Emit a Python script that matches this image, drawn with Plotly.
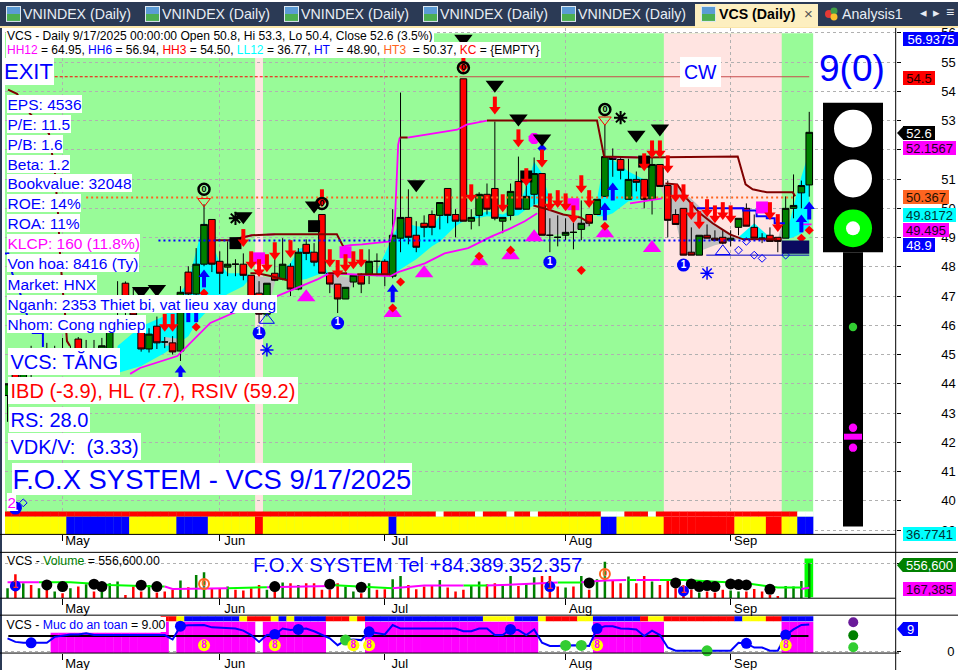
import plotly.graph_objects as go

W, H = 958, 670
FIG_H = 676
def px(x): return x / W
def py(y): return 1 - y / H

# ---------- data ----------
idx = list(range(-1, 102))
opens = [43.6,44.6,44.1,45.0,44.5,45.1,44.7,45.1,44.8,45.53,44.9,45.2,45.0,44.95,46.45,47.44,46.83,45.80,45.19,45.97,45.43,45.40,45.12,47.82,47.07,48.09,49.62,48.19,47.99,48.09,48.09,47.71,47.1,46.38,47.78,47.58,48.02,47.24,48.77,48.50,49.79,47.78,47.41,46.90,47.48,47.71,47.71,48.19,48.19,47.68,48.98,49.69,49.08,49.49,49.79,49.76,50.68,49.79,54.43,49.56,49.76,50.48,50.68,49.56,49.76,50.92,49.97,50.48,51.19,49.08,49.01,49.08,49.18,49.28,49.79,49.79,50.41,51.77,51.67,50.31,50.99,50.99,50.31,51.50,50.78,49.79,50.00,48.50,48.40,49.08,48.98,49.01,48.91,49.35,50.00,49.35,48.98,49.08,49.01,48.98,50.00,50.53,50.8]
highs = [44.0,45.0,45.1,45.3,45.2,45.4,45.3,45.57,45.3,45.6,45.5,45.5,45.57,45.9,47.51,47.5,47.3,46.2,45.9,46.3,45.6,45.63,47.34,48.02,48.64,50.14,49.62,48.53,48.87,48.26,48.46,47.71,47.51,47.44,48.29,48.98,48.12,48.64,48.94,48.81,49.79,47.78,47.41,47.3,47.71,47.78,48.60,48.46,48.26,49.97,53.96,50.65,49.56,49.76,49.93,50.20,50.68,49.97,54.43,49.97,50.55,50.85,52.97,49.69,50.85,51.77,50.92,51.74,51.19,49.66,49.76,49.66,49.5,50.27,49.79,50.31,52.86,52.05,51.74,51.70,51.26,51.0,51.84,51.5,50.95,49.97,50.00,49.35,49.08,49.45,49.25,49.28,49.25,49.66,50.17,49.79,49.15,49.35,49.01,50.41,51.16,50.95,53.3]
lows = [42.7,43.9,43.9,44.2,44.3,44.5,44.5,44.6,44.6,44.7,44.7,44.8,44.8,44.8,46.3,46.3,46.1,45.1,45.07,45.19,45.22,45.0,44.78,46.9,47.0,48.02,47.82,47.07,47.68,47.68,47.54,46.8,46.08,46.3,47.51,47.54,47.0,47.2,48.23,48.02,47.78,47.10,46.42,46.9,47.30,47.10,47.41,47.68,47.34,47.61,48.50,48.77,48.50,49.01,49.08,49.28,49.49,49.01,49.56,49.28,49.39,49.79,49.59,49.15,49.59,49.97,49.97,50.14,49.08,48.50,48.70,48.91,48.60,48.91,49.39,49.79,50.41,51.08,50.99,50.31,50.58,50.00,49.79,50.75,49.01,49.45,48.40,48.40,48.40,48.98,48.91,48.77,48.70,49.08,49.39,48.98,48.81,48.87,48.50,48.98,49.66,50.0,50.4]
closes = [44.0,44.1,44.9,44.5,45.0,44.7,45.1,44.8,45.1,44.9,45.2,45.0,45.3,45.8,46.95,46.5,46.35,45.19,45.70,45.40,45.43,45.09,47.13,47.07,48.09,49.45,48.09,47.78,48.09,48.09,47.71,46.9,46.38,47.44,47.54,48.09,47.24,48.50,48.46,48.16,47.78,47.41,46.90,47.30,47.71,47.41,48.19,48.19,47.71,49.08,49.69,49.01,48.67,49.35,49.35,50.20,49.76,49.56,49.56,49.69,50.48,49.97,49.66,49.69,50.58,49.97,50.41,51.19,49.08,49.08,49.01,49.18,49.18,49.49,49.49,50.31,51.77,51.67,51.30,50.99,50.89,50.31,51.50,50.75,49.59,49.45,48.40,48.40,49.08,48.98,48.91,48.81,48.98,49.66,49.39,48.98,48.98,48.87,48.87,50.00,50.10,50.78,52.6]
volume_k = [159,382,239,212,159,265,106,80,159,186,223,106,106,239,265,53,186,106,212,90,106,133,281,175,371,413,148,148,186,133,122,159,212,133,239,249,239,212,239,239,133,133,239,186,106,80,239,133,143,302,355,212,143,186,212,292,170,106,133,212,265,223,239,201,355,196,239,334,355,355,186,170,186,355,133,302,583,292,239,345,239,355,265,212,292,159,159,133,90,106,90,133,122,106,106,148,106,53,37,196,186,276,557]
safety = [4.3,3.1,2.8,2.8,2.8,2.8,4.8,5.1,5.6,5.6,6.0,5.4,5.4,5.2,5.2,5.2,5.2,5.2,5.2,5.2,5.4,3.9,8.4,8.7,8.8,8.8,8.0,7.9,7.8,7.6,6.9,5.4,3.1,5.4,5.6,7.6,7.1,7.3,7.6,6.7,5.4,4.3,2.0,3.7,3.9,3.7,6.5,6.0,5.6,8.8,7.6,7.6,7.6,7.6,7.6,7.6,7.6,7.6,6.7,6.7,7.6,7.6,5.4,5.4,7.3,7.1,5.4,7.3,2.8,1.7,1.7,1.9,2.0,1.9,1.7,7.6,8.4,8.4,7.6,7.5,7.3,5.1,6.9,5.4,1.2,0.1,0.1,0.1,0.1,0.1,0.1,0.1,0.1,2.8,2.6,1.2,1.2,0.1,0.1,5.4,7.3,8.8,9.0]

band_low = "Y"*8+"B"*8+"Y"*6+"B"*4+"Y"*6+"R"+"Y"*16+"B"+"Y"*26+"B"*2+"Y"*6+"R"*9+"Y"*4+"R"*2+"Y"*2+"B"*2
band_high = "R"*55+"W"+"R"*4+"W"+"R"*3+"W"+"R"*2+"W"+"R"*8+"W"*3+"R"*3+"W"+"R"*18+"W"*2
band_safety = "-"*20+"R"*2+"Y"+"B"*7+"Y"+"R"*3+"Y"+"B"+"Y"+"B"*4+"R"*3+"Y"+"R"+"B"*15+"Y"*4+"B"*3+"Y"+"R"*4+"Y"*2+"B"*6+"R"+"Y"*2+"R"*9+"B"+"Y"*3+"R"*2+"B"*4
safety_fill = "-"*6+"L"*14+"F"+"-"+"F"*10+"-"+"F"*8+"-"*5+"F"*22+"-"*7+"F"*9+"-"*15+"F"*4
state_colors = {"Y":"#FFFF00","B":"#0000FF","R":"#FF0000","W":"#FFFFFF"}

cyan_segments = [
 ([13,16,19,22,23,24,25,26,27,29,30],[45.29,45.97,46.32,47.51,48.53,49.56,48.87,48.12,47.78,47.78,47.71],[44.37,44.61,45.05,45.63,46.08,46.38,46.66,46.90,47.07,47.34,47.65]),
 ([33,35,36,37,39,40],[47.68,48.12,48.60,48.70,48.19,47.68],[47.61,47.51,47.54,47.58,47.78,47.65]),
 ([46,48,49,51,53,54,56,57],[47.85,49.04,49.56,49.39,49.35,49.76,49.76,49.56],[47.78,47.71,47.92,48.26,48.70,48.87,49.39,49.56]),
 ([58,60,62,64,65,66,67,68],[49.69,49.90,49.79,50.07,50.75,51.60,51.19,50.31],[49.62,49.73,49.69,49.76,49.97,50.10,50.24,50.24]),
 ([74,75,76,78,80,81],[50.31,51.77,51.67,51.26,50.99,50.41],[49.73,49.73,49.83,50.24,50.31,50.37]),
 ([92,94,96],[49.01,49.49,49.01],[48.94,48.94,48.94]),
 ([98,99,100,101],[48.98,50.07,51.09,51.94],[48.94,49.01,49.15,49.39]),
]
gray_segments = [
 ([19,21],[45.60,45.53],[45.29,45.36]),
 ([30,32,33],[47.71,47.65,47.58],[46.83,46.42,47.44]),
 ([40,42,43],[47.75,47.65,47.58],[47.34,46.90,47.51]),
 ([67,70,73],[50.07,49.79,49.49],[49.04,49.15,49.39]),
 ([82,84,85,87,89,91,92],[50.85,50.82,50.58,50.07,49.49,49.15,49.01],[50.75,49.56,48.43,48.53,48.74,48.87,48.94]),
 ([97,98],[48.94,49.90],[48.87,48.94]),
]

dark_x = [-0.94,0.2,1.86,4.27,4.66,5.04,5.42,5.67,6.06,6.31,6.56,6.95,None,25.4,27.3,30.1,33.0,40.9,41.7,None,48.9,49.9,None,60,73.7,74,74.9,79.4,91.9,92.9,93.8,95.6,98.9,99.2,None,29.9,30.8,32.6,34.6,None,39.8,42.2,None,43.5,47.7,None,65.9,67.7,69.7,71.9,73.1,None,82.7,84.2,85.4,87.1,88.7,90.9,92.6,96.9]
dark_y = [54.06,53.92,53.24,52.56,51.87,51.19,49.83,48.46,47.10,46.42,45.46,45.29,None,48.91,48.91,49.08,49.11,49.11,48.70,None,52.42,52.42,None,53.0,53.0,53.0,51.77,51.74,51.77,50.82,50.65,50.55,50.55,50.41,None,47.78,47.78,47.68,47.54,None,47.78,47.78,None,47.75,47.75,None,50.10,49.97,49.79,49.69,49.49,None,50.85,50.82,50.34,49.83,49.49,49.11,48.94,48.94]
magenta_up_x = [27.3,30.1,None,32.0,33.0,None,41.7,42.6,44.1,47.66,48.3,48.7,48.9,None,49.9,52.4,56.2,57.4,60.0,None,63.3,65.1,None,76.0,79.1,None,91.0,92.6]
magenta_up_y = [48.91,49.08,None,49.1,49.11,None,48.70,48.74,48.77,48.87,49.66,52.18,52.42,None,52.42,52.52,52.69,52.86,53.0,None,53.0,53.0,None,51.74,51.74,None,50.0,50.0]
magenta_low_x = [14.6,15.85,20.6,22.5,24.8,27.7,33.3,38.5,40,47.7,48.7,52.1,54.6,57.6,59.7,60.6,62.7,64.8,66.4,None,78.2,82.3,None,99.8,101.3]
magenta_low_y = [44.34,44.54,44.95,45.46,46.08,46.42,47.0,47.58,47.78,47.68,47.82,48.12,48.46,48.64,48.91,49.04,49.28,49.56,49.83,None,50.17,50.34,None,49.45,49.45]
blue_line_x = [-1.4,-0.9,-0.4,0.6,2.2,3.5,3.5,None,86.7,92.6,92.6,94.3,94.3,95.6,95.6,96.6,96.6,97.9]
blue_line_y = [48.46,48.46,47.78,47.10,45.74,45.74,45.26,None,50.0,50.0,49.93,49.93,49.73,49.73,49.66,49.66,49.49,49.49]

tri_i = [16,18,29,38,51,57,61,64,67,79,82]
tri_p = [47.17,47.24,49.73,50.10,50.82,55.8,54.23,53.07,52.39,52.52,52.73]
red_i = [19,20,29,30,31,32,33,35,39,40,41,42,43,44,57,58,61,62,64,65,67,68,69,70,71,72,73,80,81,82,83,84,85,86,87,88,89,90,91,96,97]
red_p = [46.08,46.08,48.98,48.22,47.95,48.12,48.53,48.60,50.34,48.29,47.92,48.12,48.22,48.29,54.94,50.51,53.51,50.17,52.39,51.06,51.70,50.20,50.31,50.20,49.79,50.82,50.31,51.57,52.01,52.01,51.50,50.51,50.51,49.90,49.59,50.0,49.79,49.90,49.79,49.90,49.49]
blue_up_i = [21,22,23,24,48,75,76,100,101]
blue_up_p = [44.34,46.42,46.42,47.61,47.10,49.90,50.58,49.49,49.93]
mag_tri_i = [37,48,52,59,63,66,75,81]
mag_tri_p = [46.96,46.42,47.78,48.19,48.40,49.01,49.15,48.64]
dia_i = [23,24,48,49,59,63,72,75,100,101]
dia_p = [45.94,47.10,46.59,47.48,48.36,48.57,47.88,49.39,48.98,49.25]
mag_sq_i = [31,42,71,95]
mag_sq_p = [48.29,48.50,50.14,50.03]
blk_sq_i = [28,38,65,80]
blk_sq_p = [48.81,49.39,51.09,51.60]
one_i = [0,31,41,68,85]
one_p = [39.75,45.74,46.08,48.16,48.06]
zero_i = [24,39,57,75]
zero_p = [50.65,50.17,54.81,53.38]
open_tri_i = [24,75]
open_tri_p = [50.24,53.03]
hol_dia_i = [1,92,93,94,95,98]
hol_dia_p = [39.93,48.57,48.87,48.40,48.29,48.40]
hol_tri_i = [32,90]
hol_tri_p = [46.18,48.53]
snow_i = [32,88]
snow_p = [45.16,47.78]
star_i = [28,77]
star_p = [49.66,53.10]

vol_ma_green_x = [3,7,9,12,18,19,None,27,32,None,40,45,48,None,57,60,None,69,72,None,78,79,None,82,85,93,95,97,100]
vol_ma_green_y = [254,254,238,212,186,186,None,159,175,None,212,186,159,None,201,201,None,249,249,None,292,292,None,292,292,238,201,170,170]
vol_ma_mag_x = [-1,3,None,19,20,27,None,32,40,None,48,52,57,None,60,66,69,None,72,75,77.7,None,79,82,None,100,101]
vol_ma_mag_y = [254,254,None,186,148,159,None,175,196,None,159,201,201,None,201,238,249,None,254,281,290,None,292,292,None,148,167.385]
vol_dot_i = [4,6,10,11,16,18,33,40,44,73,84,86,87,88,89,91,92,93,96]
vol_dot_k = [212,186,223,186,207,186,186,223,175,244,244,228,186,201,186,228,217,212,143]
vol_one_i = [0,31,41,68,85]
vol_one_k = [196,-16,-42,186,117]
vol_zero_i = [24,39,57,75]
vol_zero_k = [228,-53,-16,387]

level_blue_i = [2,21,33,36,45,63,74,93,98]
level_green_i = [42,70,72,88]
level_eight_i = [24,33,43,45,74,98]
level_one_i = [0,31,41,68,85]
level_zero_i = [24,39,57,75]
level_nine_i = [98]

month_ticks = [6,26,47,70,91]
month_labels = ["May","Jun","Jul","Aug","Sep"]
price_ticks = list(range(39,57))

DOM_X = [5/W, 895.7/W]
XR = [-1.323, 112.0]
RED, CANDLE_G, BLUE, MAG, DRED = "#FF0000", "#008000", "#0000FF", "#FF00FF", "#800000"
FONT = "Liberation Sans"

fig = go.Figure()

def band(x, base, top, colors, xa="x", ya="y"):
    fig.add_trace(go.Bar(x=x, y=top, base=base, width=1.04, marker=dict(color=colors, line=dict(width=0)), xaxis=xa, yaxis=ya, hoverinfo="skip", showlegend=False))

band(idx, [38.85]*103, [0.61]*103, [state_colors[c] for c in band_low])
band(idx, [39.46]*103, [0.17]*103, [state_colors[c] for c in band_high])

def cloud(seg, color):
    x, hi, lo = seg
    fig.add_trace(go.Scatter(x=x+x[::-1], y=hi+lo[::-1], fill="toself", fillcolor=color, mode="none", xaxis="x", yaxis="y", hoverinfo="skip", showlegend=False))
for s in cyan_segments: cloud(s, "#00FFFF")
for s in gray_segments: cloud(s, "#C0C0C0")

fig.add_trace(go.Candlestick(x=idx, open=opens, high=highs, low=lows, close=closes,
    increasing=dict(fillcolor=CANDLE_G, line=dict(color="#000000", width=1)),
    decreasing=dict(fillcolor=RED, line=dict(color="#000000", width=1)),
    whiskerwidth=0, xaxis="x", yaxis="y4", hoverinfo="skip", showlegend=False))

def line(x, y, color, width=2, dash=None, xa="x", ya="y4"):
    fig.add_trace(go.Scatter(x=x, y=y, mode="lines", line=dict(color=color, width=width, dash=dash), connectgaps=False, xaxis=xa, yaxis=ya, hoverinfo="skip", showlegend=False))

line(magenta_low_x, magenta_low_y, MAG, 1.8)
line(magenta_up_x, magenta_up_y, MAG, 1.8)
line(dark_x, dark_y, DRED)
line(blue_line_x, blue_line_y, BLUE)
line([18.2,95.5],[48.9,48.9], BLUE, 2, "2px,3px")
line([9.0,98.9],[50.37,50.37], "#FF6420", 2, "2px,3px")
line([5.0,56.5],[54.5,54.5], RED, 1, "3px,2px")
line([56.5,101],[54.5,54.5], "#C84B4B", 1)
line([87.9,101],[48.4,48.4], "#0000C0", 1)

def mark(x, y, symbol, color, size, lw=0, lc=None, xa="x", ya="y4", text=None, tc="#000", ts=9):
    fig.add_trace(go.Scatter(x=x, y=y, mode="markers+text" if text else "markers",
        marker=dict(symbol=symbol, color=color, size=size, line=dict(width=lw, color=lc or color)),
        text=[text]*len(x) if text else None, textposition="middle center",
        textfont=dict(family=FONT, size=ts, color=tc), cliponaxis=False,
        xaxis=xa, yaxis=ya, hoverinfo="skip", showlegend=False))

def arrows(x, y, color, down):
    sign = -1 if down else 1
    head = [v + sign * 0.13 for v in y]
    stem = [v - sign * 0.12 for v in y]
    mark(x, stem, "line-ns-open", color, 8, 4, color)
    mark(x, head, "triangle-down" if down else "triangle-up", color, 10)

mark(mag_sq_i, mag_sq_p, "square", MAG, 12)
mark(blk_sq_i, blk_sq_p, "square", "#000000", 12)
mark([66], [52.39], "octagon", MAG, 12)
mark(mag_tri_i, mag_tri_p, "triangle-up", MAG, 16)
mark(dia_i, dia_p, "diamond", RED, 7)
mark([67], [52.05], "diamond", BLUE, 7)
mark(tri_i, tri_p, "triangle-down", "#000000", 16)
mark(open_tri_i, open_tri_p, "triangle-down-open", RED, 11, 1)
mark(hol_tri_i, hol_tri_p, "triangle-up-open", BLUE, 13, 1)
mark(hol_dia_i, hol_dia_p, "diamond-open", BLUE, 6, 1)
mark(snow_i, snow_p, "asterisk-open", BLUE, 11, 1.5)
mark(star_i, star_p, "asterisk-open", "#000000", 11, 2)
arrows(red_i, red_p, RED, True)
arrows(blue_up_i, blue_up_p, BLUE, False)
mark(one_i, one_p, "circle", BLUE, 13, text="<b>1</b>", tc="#FFFFFF", ts=10)
mark(zero_i, zero_p, "circle", "rgba(0,0,0,0)", 11, 2.5, "#000000", text="<b>0</b>", tc="#000000", ts=9)

vol_colors = [CANDLE_G if c > o else RED for o, c in zip(opens, closes)]
fig.add_trace(go.Bar(x=idx, y=volume_k, width=0.32, marker=dict(color=vol_colors, line=dict(width=0)), xaxis="x2", yaxis="y2", hoverinfo="skip", showlegend=False))
line(vol_ma_green_x, vol_ma_green_y, "#00FF00", 2, None, "x2", "y2")
line(vol_ma_mag_x, vol_ma_mag_y, MAG, 2, None, "x2", "y2")
mark(vol_dot_i, vol_dot_k, "circle", "#000000", 11, xa="x2", ya="y2")
mark(vol_one_i, vol_one_k, "circle", BLUE, 11, xa="x2", ya="y2", text="<b>1</b>", tc="#FF3030", ts=10)
mark(vol_zero_i, vol_zero_k, "circle", "rgba(255,255,255,0.2)", 10, 2, "#FF6420", "x2", "y2", text="<b>0</b>", tc="#FF6420", ts=9)

fill_top = [None if c == "-" else (6.2 if c == "L" else 9.87) for c in safety_fill]
fig.add_trace(go.Bar(x=idx, y=[None if t is None else t + 0.67 for t in fill_top], base=[-0.67]*103, width=1.04, marker=dict(color=MAG, line=dict(width=0)), xaxis="x3", yaxis="y3", hoverinfo="skip", showlegend=False))
fig.add_trace(go.Bar(x=idx, y=[None if c == "-" else 1.7 for c in band_safety], base=[10.05]*103, width=1.04, marker=dict(color=[state_colors.get(c, "#FFFFFF") for c in band_safety], line=dict(width=0)), xaxis="x3", yaxis="y3", hoverinfo="skip", showlegend=False))
line([-0.9,100.9],[5.1,5.1], "#000000", 2, None, "x3", "y3")
line(idx, safety, BLUE, 2, None, "x3", "y3")
mark(level_blue_i, [safety[i+1] for i in level_blue_i], "circle", BLUE, 11, xa="x3", ya="y3")
mark(level_green_i, [safety[i+1] for i in level_green_i], "circle", "#32CD32", 11, xa="x3", ya="y3")
mark(level_eight_i, [2.0]*len(level_eight_i), "circle", "#FFFF00", 12, xa="x3", ya="y3", text="<b>8</b>", tc="#FF00FF", ts=10)
mark(level_one_i, [-3.3]*5, "circle", BLUE, 11, xa="x3", ya="y3", text="<b>1</b>", tc="#FFFFFF", ts=10)
mark(level_zero_i, [-3.3]*4, "circle", "rgba(255,255,255,0.2)", 10, 2, "#FF6420", "x3", "y3", text="<b>0</b>", tc="#FF6420", ts=9)
mark(level_nine_i, [-3.3], "circle", "#000000", 11, xa="x3", ya="y3", text="<b>9</b>", tc="#FFFFFF", ts=10)
mark([106.6], [9.7], "circle", "#6A1B9A", 10, xa="x3", ya="y3")
mark([106.6], [5.3], "circle", "#008000", 10, xa="x3", ya="y3")
mark([106.6], [1.3], "circle", "#32CD32", 10, xa="x3", ya="y3")

shapes = []
def rect_px(x0, y0, x1, y1, color, layer="above", line_color=None):
    shapes.append(dict(type="rect", xref="paper", yref="paper", x0=px(x0), x1=px(x1), y0=py(y0), y1=py(y1), fillcolor=color, line=dict(width=0 if not line_color else 1, color=line_color), layer=layer))
def circle_px(cx, cy, r, color):
    shapes.append(dict(type="circle", xref="paper", yref="paper", x0=px(cx-r), x1=px(cx+r), y0=py(cy-r), y1=py(cy+r), fillcolor=color, line=dict(width=0), layer="above"))
def hline_px(y, x0, x1, w=1):
    shapes.append(dict(type="line", xref="paper", yref="paper", x0=px(x0), x1=px(x1), y0=py(y), y1=py(y), line=dict(color="#000000", width=w), layer="above"))
def vline_px(x, y0, y1):
    shapes.append(dict(type="line", xref="paper", yref="paper", x0=px(x), x1=px(x), y0=py(y0), y1=py(y1), line=dict(color="#000000", width=1), layer="above"))

shapes.append(dict(type="rect", xref="x", yref="y", x0=-1.323, x1=101.5, y0=38.85, y1=55.99, fillcolor="#98FB98", line=dict(width=0), layer="below"))
for a, b in [(30.5, 31.5), (82.5, 97.5)]:
    shapes.append(dict(type="rect", xref="x", yref="y", x0=a, x1=b, y0=38.85, y1=55.99, fillcolor="#FFE4E1", line=dict(width=0), layer="below"))
shapes.append(dict(type="rect", xref="x2", yref="y2", x0=100.4, x1=101.5, y0=15, y1=635, fillcolor="#00FF00", line=dict(width=0), layer="below"))
shapes.append(dict(type="rect", xref="x", yref="y4", x0=97.5, x1=101, y0=48.45, y1=48.9, fillcolor="#0A0A60", line=dict(width=0), layer="above"))

rect_px(0, 0, W, 24, "#2B3A55")
rect_px(0, 24, W, 26, "#FBE6A8")
rect_px(695, 2, 818, 25, "#FDEFC0")
for x in [6, 145, 284, 423, 561, 701]:
    rect_px(x, 4, x+15, 20, "#DDE8F0")
    rect_px(x+1, 5, x+14, 12, "#5B9BD5")
    rect_px(x+1, 12, x+14, 19, "#4CAF50")
circle_px(829, 12, 4, "#E53935"); circle_px(834, 9, 3.5, "#43A047"); circle_px(834, 15, 3.5, "#FBC02D")
rect_px(0, 26, 2, H, "#2B3A55")

hline_px(534, 0, 895.7)
hline_px(552, 0, W)
hline_px(598, 0, 895.7)
hline_px(615, 0, W)
hline_px(653, 0, 899)
vline_px(895.7, 26, H)

rect_px(823, 101, 883, 251, "#000000")
rect_px(843, 251, 863, 526, "#000000")
circle_px(853, 127, 19, "#FFFFFF")
circle_px(853, 177, 19, "#FFFFFF")
circle_px(853, 227, 19, "#00FF00")
circle_px(853, 227, 7, "#FFFFFF")
circle_px(853, 326, 4.2, "#32CD32")
circle_px(853, 427, 4.2, MAG)
circle_px(853, 447, 4.2, MAG)
rect_px(844, 433, 862, 439, MAG)

def tag(x0, x1, y0, y1, color):
    m = (y0 + y1) / 2
    p = f"M {px(x0)},{py(m)} L {px(x1)},{py(y0)} L {px(x1)},{py(y1)} Z"
    shapes.append(dict(type="path", xref="paper", yref="paper", path=p, fillcolor=color, line=dict(width=0), layer="above"))
tag(897, 903, 125, 138, "#000000")
tag(897, 903, 558, 572, CANDLE_G)
tag(897, 903, 622, 636, BLUE)

ann = []
def note(x, y, text, size=12, color="#000000", bg=None, anchor="left", w=None, h=None, bold=False, pad=1):
    d = dict(xref="paper", yref="paper", x=px(x), y=py(y), text=f"<b>{text}</b>" if bold else text, showarrow=False,
             xanchor=anchor, yanchor="middle", font=dict(family=FONT, size=size, color=color), borderpad=pad, borderwidth=0)
    if bg: d["bgcolor"] = bg
    if w: d["width"] = w
    if h: d["height"] = h
    if w: d["align"] = "center"
    ann.append(d)

for x in [23, 162, 301, 440, 578]:
    note(x, 12.5, "VNINDEX (Daily)", 14.2, "#E8EDF4", pad=0)
note(719, 12.5, "VCS (Daily)", 14.2, "#000000", bold=True, pad=0)
note(808, 12, "×", 15, "#555555", anchor="center", pad=0)
note(842, 12.5, "Analysis1", 14.2, "#E8EDF4", pad=0)
note(923, 10.5, "◂", 13, "#E8EDF4", anchor="center", pad=0)
note(936, 10.5, "▸", 13, "#E8EDF4", anchor="center", pad=0)
note(950, 10.5, "≡", 14, "#E8EDF4", anchor="center", pad=0)

note(6, 34, "VCS - Daily 9/17/2025 00:00:00 Open 50.8, Hi 53.3, Lo 50.4, Close 52.6 (3.5%)", 12.1, "#000000", "#FFFFFF", pad=1)
note(6, 48, '<span style="color:#FF00FF">HH12</span> = 64.95, <span style="color:#0000FF">HH6</span> = 56.94, <span style="color:#FF0000">HH3</span> = 54.50, <span style="color:#00FFFF">LL12</span> = 36.77, <span style="color:#0000FF">HT </span> = 48.90, <span style="color:#FF6420">HT3 </span> = 50.37, <span style="color:#FF0000">KC</span> = {EMPTY}', 12.0, "#000000", "#FFFFFF", pad=1)

note(3, 69.5, "EXIT", 22, BLUE, "#FFFFFF", pad=1)
rows = [("EPS: 4536",102,BLUE),("P/E: 11.5",122,BLUE),("P/B: 1.6",142,BLUE),("Beta: 1.2",162,BLUE),("Bookvalue: 32048",182,BLUE),
        ("ROE: 14%",202,BLUE),("ROA: 11%",222,BLUE),("KLCP: 160 (11.8%)",242,MAG),("Von hoa: 8416 (Ty)",262,BLUE),("Market: HNX",282.5,BLUE),
        ("Nganh: 2353 Thiet bi, vat lieu xay dung",302.5,BLUE),("Nhom: Cong nghiep",323,BLUE)]
for t, y, c in rows:
    note(7, y, t, 15.5, c, "#FFFFFF", pad=0.5)
note(8, 361, "VCS: TĂNG", 20, BLUE, "#FFFFFF", pad=2.5)
note(8, 390, "IBD (-3.9), HL (7.7), RSIV (59.2)", 20, RED, "#FFFFFF", pad=2.5)
note(9, 419, "RS: 28.0", 20, BLUE, "#FFFFFF", pad=1.5)
note(8, 446, "VDK/V:  (3.33)", 20, BLUE, "#FFFFFF", pad=2.5)
note(12, 478, "F.O.X SYSTEM - VCS 9/17/2025", 27.4, BLUE, "#FFFFFF", pad=0.5)
note(7, 501, "2", 15, MAG, "#FFFFFF", pad=0.5)
note(700.5, 70.5, "CW", 19.5, BLUE, "#FFFFFF", anchor="center", pad=4)
note(852, 67, "9(0)", 37, BLUE, anchor="center", pad=0)

note(6, 561, '<span style="color:#000000">VCS - </span><span style="color:#008000">Volume</span> = 556,600.00', 12.3, "#000000", pad=1)
note(253, 565, "F.O.X SYSTEM Tel +84.389.352.357", 20.3, BLUE, pad=0)
note(6, 624.5, 'VCS - <span style="color:#0000FF">Muc do an toan</span> = 9.00', 12.3, "#000000", "#FFFFFF", pad=0.5)

badges = [(903,56,37,"56.9375",BLUE,"#FFFFFF"),(903,32,76,"54.5",RED,"#220000"),(903,32,131.5,"52.6","#000000","#FFFFFF"),
          (903,53,146.5,"52.1567",MAG,"#220022"),(903,46,196,"50.367","#FF6420","#221100"),(903,53,214,"49.8172","#00FFFF","#003333"),
          (903,46,229,"49.495",MAG,"#220022"),(903,32,244,"48.9",BLUE,"#FFFFFF"),(903,53,533.5,"36.7741","#00FFFF","#003333"),
          (903,53,565,"556,600",CANDLE_G,"#FFFFFF"),(903,53,588.5,"167,385",MAG,"#220022"),(903,15,629,"9",BLUE,"#FFFFFF")]
for x, w, y, t, bg, fg in badges:
    note(x, y, t, 13, fg, bg, w=w, h=14, pad=0)

tickfont = dict(family=FONT, size=13, color="#000000")
fig.update_layout(
    width=W, height=FIG_H, margin=dict(l=0, r=0, t=0, b=0), autosize=False,
    paper_bgcolor="#FFFFFF", plot_bgcolor="#FFFFFF", showlegend=False, barmode="overlay", boxgap=0.16, boxgroupgap=0,
    shapes=shapes, annotations=ann,
    xaxis=dict(domain=DOM_X, range=XR, anchor="y", rangeslider=dict(visible=False), tickmode="array", tickvals=month_ticks, ticktext=month_labels,
               ticks="outside", ticklen=6, tickcolor="#000000", tickfont=tickfont, ticklabelshift=15, ticklabelstandoff=-12,
               showgrid=True, gridcolor="#B0B0B0", griddash="dot", zeroline=False, showline=False),
    xaxis2=dict(domain=DOM_X, range=XR, anchor="y2", tickmode="array", tickvals=month_ticks, ticktext=month_labels, ticks="outside", ticklen=6, tickcolor="#000000",
                tickfont=tickfont, ticklabelshift=15, ticklabelstandoff=-8, showgrid=False, zeroline=False, showline=False),
    xaxis3=dict(domain=DOM_X, range=XR, anchor="y3", tickmode="array", tickvals=month_ticks, ticktext=month_labels, ticks="outside", ticklen=6, tickcolor="#000000",
                tickfont=tickfont, ticklabelshift=15, ticklabelstandoff=-8, showgrid=False, zeroline=False, showline=False),
    yaxis=dict(domain=[1-534/H, 1-26/H], range=[38.85, 56.17], anchor="x", side="right", tickmode="array", tickvals=price_ticks, ticks="outside", ticklen=4, tickcolor="#000000",
               tickfont=tickfont, ticklabelstandoff=38, showgrid=True, gridcolor="#B0B0B0", griddash="dot", zeroline=False, showline=False),
    yaxis4=dict(range=[38.85, 56.17], overlaying="y", anchor="x", side="right", visible=False),
    yaxis2=dict(domain=[1-598/H, 1-552/H], range=[0, 731.4], anchor="x2", side="right", tickmode="array", tickvals=[556.6], ticktext=[""], ticks="outside", ticklen=4, tickcolor="#000000",
                showgrid=True, gridcolor="#B0B0B0", griddash="dot", zeroline=False, showline=False),
    yaxis3=dict(domain=[1-653/H, 1-615/H], range=[-0.67, 12.12], anchor="x3", side="right", tickmode="array", tickvals=[0], ticks="outside", ticklen=4, tickcolor="#000000",
                tickfont=tickfont, ticklabelstandoff=44, showgrid=True, gridcolor="#B0B0B0", griddash="dot", zeroline=False, showline=False),
)
fig.write_html("out.html", config={"displayModeBar": False}, post_script="document.body.style.margin='0';")
